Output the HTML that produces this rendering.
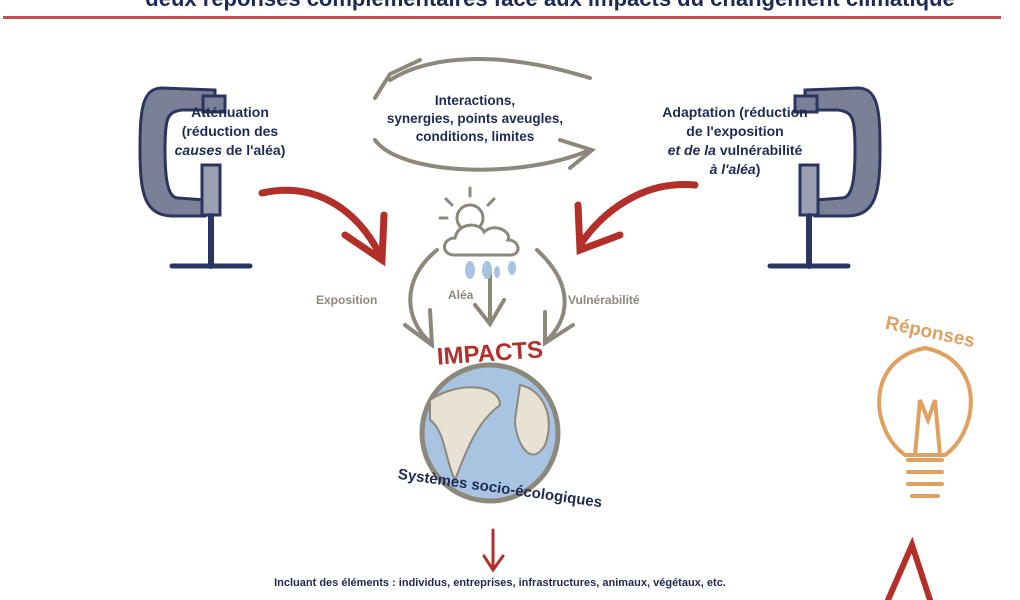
<!DOCTYPE html>
<html><head><meta charset="utf-8"><style>
body{margin:0;width:1020px;height:600px;background:#fff;overflow:hidden;position:relative;font-family:"Liberation Sans",sans-serif;}
.t{position:absolute;font-weight:bold;text-align:center;}
</style></head><body>
<div class="t" style="left:130px;top:-14px;width:840px;font-size:22px;color:#1e2a55;white-space:nowrap">deux réponses complémentaires face aux impacts du changement climatique</div>
<div style="position:absolute;left:3px;top:16px;width:998px;height:3px;background:#c0504d"></div>
<svg width="1020" height="600" style="position:absolute;left:0;top:0">
<g fill="none" stroke-linecap="round">
<path d="M590,78 C500,50 430,55 390,80" stroke="#8c887c" stroke-width="4"/>
<path d="M375,98 L390,74 L420,60" stroke="#8c887c" stroke-width="4"/>
<path d="M375,140 C400,175 520,180 590,150" stroke="#8c887c" stroke-width="4"/>
<path d="M560,140 L592,150 L570,168" stroke="#8c887c" stroke-width="4"/>
<path d="M262,193 C320,180 360,215 380,255" stroke="#b3302a" stroke-width="7"/>
<path d="M345,235 L382,260 L384,215" stroke="#b3302a" stroke-width="7"/>
<path d="M695,185 C640,180 600,215 580,245" stroke="#b3302a" stroke-width="7"/>
<path d="M578,205 L580,250 L620,235" stroke="#b3302a" stroke-width="7"/>
<path d="M888,600 L912,545 L930,600" stroke="#b3302a" stroke-width="6"/>
<path d="M493,530 L493,568 M484,556 L493,570 L503,556" stroke="#b3302a" stroke-width="3"/>
<path d="M437,250 C400,280 405,320 430,342" stroke="#8c887c" stroke-width="4"/>
<path d="M405,325 L432,345 L430,310" stroke="#8c887c" stroke-width="4"/>
<path d="M537,250 C575,285 570,320 545,342" stroke="#8c887c" stroke-width="4"/>
<path d="M545,312 L545,343 L573,325" stroke="#8c887c" stroke-width="4"/>
<path d="M490,270 L490,322 M475,305 L490,324 L504,300" stroke="#8c887c" stroke-width="4"/>
<circle cx="470" cy="218" r="13" stroke="#8c887c" stroke-width="3"/>
<path d="M470,196 L470,188 M452,205 L446,199 M488,205 L494,199 M447,218 L440,218" stroke="#8c887c" stroke-width="3"/>
<path d="M455,255 C440,255 442,238 455,238 C458,222 480,222 484,232 C495,222 512,232 508,240 C520,240 522,255 510,255 Z" fill="#fff" stroke="#8c887c" stroke-width="3"/>
<ellipse cx="470" cy="270" rx="5" ry="9" fill="#a8c4e0"/><ellipse cx="487" cy="270" rx="5" ry="9" fill="#a8c4e0"/><ellipse cx="497" cy="272" rx="3" ry="6" fill="#a8c4e0"/><ellipse cx="512" cy="268" rx="4" ry="7" fill="#a8c4e0"/>
<circle cx="490" cy="433" r="68" fill="#a8c4e0" stroke="#8c887c" stroke-width="5"/>
<path d="M430,400 C460,380 500,385 500,405 C480,420 470,440 455,480 C445,460 445,430 430,420 Z" fill="#e8e2d4" stroke="#8c887c" stroke-width="2"/>
<path d="M520,385 C545,390 555,420 545,445 C530,470 515,440 515,420 Z" fill="#e8e2d4" stroke="#8c887c" stroke-width="2"/>
<g stroke="#2a3560" stroke-width="3" fill="#7a8196">
<path d="M215,90 L162,88 C142,88 140,110 140,150 C140,195 145,215 172,216 L205,216 L205,200 L178,198 C168,198 165,180 165,150 C165,118 167,112 182,110 L215,110 Z"/>
<rect x="203" y="96" width="22" height="16"/>
<rect x="202" y="165" width="18" height="50" fill="#9aa0b2"/>
<path d="M211,216 L211,266" stroke-width="6"/>
<path d="M172,266 L250,266" stroke-width="5"/>
<path d="M805,90 L858,88 C878,88 880,110 880,150 C880,195 875,215 848,216 L815,216 L815,200 L842,198 C852,198 855,180 855,150 C855,118 853,112 838,110 L805,110 Z"/>
<rect x="795" y="96" width="22" height="16"/>
<rect x="800" y="165" width="18" height="50" fill="#9aa0b2"/>
<path d="M809,216 L809,266" stroke-width="6"/>
<path d="M770,266 L848,266" stroke-width="5"/>
</g>
<g stroke="#e0a060" stroke-width="4" fill="none">
<path d="M905,455 C870,430 865,360 925,348 C985,360 980,430 945,455 Z"/>
<path d="M908,460 L942,460 M908,472 L942,472 M908,484 L942,484 M912,496 L938,496"/>
<path d="M915,455 L920,400 L928,420 L935,400 L940,455"/>
</g>
</g>
</svg>
<div class="t" style="left:365px;top:92px;width:220px;font-size:13.5px;color:#1e2a55;line-height:18px">Interactions,<br>synergies, points aveugles,<br>conditions, limites</div>
<div class="t" style="left:165px;top:103px;width:130px;font-size:14px;color:#1e2a55;line-height:19px">Atténuation<br>(réduction des<br><i>causes</i> de l'aléa)</div>
<div class="t" style="left:655px;top:103px;width:160px;font-size:14px;color:#1e2a55;line-height:19px">Adaptation (réduction<br>de l'exposition<br><i>et de la</i> vulnérabilité<br><i>à l'aléa</i>)</div>
<div class="t" style="left:316px;top:293px;font-size:12px;color:#8c887c">Exposition</div>
<div class="t" style="left:448px;top:288px;font-size:12px;color:#8c887c">Aléa</div>
<div class="t" style="left:568px;top:293px;font-size:12px;color:#8c887c">Vulnérabilité</div>
<div class="t" style="left:430px;top:340px;width:120px;font-size:24px;color:#b3302a;transform:rotate(-4deg)">IMPACTS</div>
<div class="t" style="left:375px;top:480px;width:250px;font-size:15px;color:#1e2a55;transform:rotate(8deg)">Systèmes socio-écologiques</div>
<div class="t" style="left:180px;top:577px;width:640px;font-size:11px;color:#1e2a55">Incluant des éléments : individus, entreprises, infrastructures, animaux, végétaux, etc.</div>
<div class="t" style="left:870px;top:322px;width:120px;font-size:19px;color:#e0a060;transform:rotate(12deg)">Réponses</div>
</body></html>
